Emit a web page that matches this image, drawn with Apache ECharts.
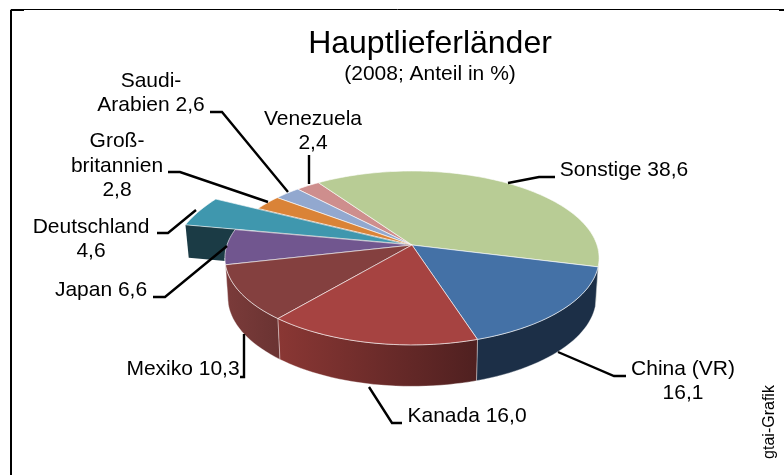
<!DOCTYPE html>
<html>
<head>
<meta charset="utf-8">
<style>
html,body{margin:0;padding:0;background:#fff}
#main{width:784px;height:475px}
</style>
<script src="https://cdn.jsdelivr.net/npm/echarts@6/dist/echarts.min.js"></script>
</head>
<body>
<div id="main"></div>
<script>
// data, clockwise from the Venezuela/Sonstige edge
var categories = ['Sonstige', 'China (VR)', 'Kanada', 'Mexiko', 'Japan', 'Deutschland', 'Groß-\nbritannien', 'Saudi-\nArabien', 'Venezuela'];
var shares = [38.6, 16.1, 16.0, 10.3, 6.6, 4.6, 2.8, 2.6, 2.4];

// styling per slice
var topColors = ['#b8cc95', '#4471a6', '#a64341', '#84403f', '#71568f', '#3f97ae', '#da8337', '#92a8cf', '#ce8e8d'];
var wallColors = ['#6b7a52', '#1c2f47', '#6b2725', '#6f3534', '#4a3860', '#1b3b45', '#6a3d14', '#56688a', '#855a5a'];
var labelSeps = [' ', '\n', ' ', ' ', ' ', '\n', '\n', ' ', '\n'];
var labelPos = [[624, 170], [683, 381], [467, 416], [183, 369], [101, 290], [91, 239], [117, 166], [151, 93], [313, 131]];
var leaders = [
  [[508, 183], [539, 177], [555, 177]],
  [[558, 352], [614, 376], [626, 376]],
  [[369, 387], [392, 423], [402, 423]],
  [[244, 334], [244, 377], [240, 377]],
  [[227, 246], [165, 297], [153, 297]],
  [[196, 210], [168, 233], [157, 233]],
  [[268, 202], [180, 172], [168, 172]],
  [[288, 192], [222, 112], [210, 112]],
  [[309, 184], [309, 155]]
];
var drawOrder = [8, 7, 0, 6, 5, 4, 3, 1, 2];
var explodedIdx = 5;

// pie geometry (perspective squashed circle)
var cx = 412, cy = 245, rx = 185, ry = 85, persp = 0.149;
var startAngle = -34.6;

function project(deg, r, ox, oy) {
  var t = deg * Math.PI / 180;
  var X = r * Math.sin(t), Y = -r * Math.cos(t);
  var p = 1 / (1 - persp * Y);
  return { x: ox + rx * X * p, y: oy + ry * Y * p, p: p };
}
function lower(pt, ox) {
  return [ox + (pt.x - ox) * 0.985, pt.y + 25 + 14 * pt.p];
}

var total = shares.reduce(function (a, b) { return a + b; }, 0);
var angles = [];
var acc = startAngle;
shares.forEach(function (v) {
  var a = v / total * 360;
  angles.push([acc, acc + a]);
  acc += a;
});
var sliceData = drawOrder.map(function (i) { return [i, angles[i][0], angles[i][1]]; });

function renderSlice(params, api) {
  var i = api.value(0), a0 = api.value(1), a1 = api.value(2);
  var exploded = i === explodedIdx;
  var ox = exploded ? 405 : cx, oy = exploded ? 244 : cy, r = exploded ? 1.25 : 1;
  var children = [];
  var a;

  // cut face, only where a neighbour has been pulled away
  if (exploded || i === explodedIdx + 1) {
    var tip = project(a0, r, ox, oy);
    var tipLow = lower(tip, ox);
    tipLow[1] = tip.y + 33;
    children.push({
      type: 'polygon',
      shape: { points: [[ox, oy], [tip.x, tip.y], tipLow, [ox, oy + 33]] },
      style: { fill: wallColors[i] }
    });
  }

  // outer wall on the side facing the viewer
  var w0 = Math.max(a0, 98.6), w1 = Math.min(a1, 261.4);
  if (!exploded && w1 > w0) {
    var upper = [], below = [];
    for (a = w0; a < w1; a += 2) {
      var q = project(a, 1, cx, cy);
      upper.push([q.x, q.y]);
      below.unshift(lower(q, cx));
    }
    var qe = project(w1, 1, cx, cy);
    upper.push([qe.x, qe.y]);
    below.unshift(lower(qe, cx));
    var wallFill = wallColors[i];
    if (i === 2) {
      wallFill = new echarts.graphic.LinearGradient(0, 0, 1, 0, [
        { offset: 0, color: '#8a3734' },
        { offset: 1, color: '#4f2020' }
      ]);
    } else if (i === 3) {
      wallFill = new echarts.graphic.LinearGradient(0, 0, 1, 0, [
        { offset: 0, color: '#7b3b3a' },
        { offset: 1, color: '#6a3332' }
      ]);
    }
    children.push({
      type: 'polygon',
      shape: { points: upper.concat(below) },
      style: { fill: wallFill, stroke: 'rgba(255,255,255,0.45)', lineWidth: 0.8 }
    });
  }

  // top surface
  var pts = [[ox, oy]];
  for (a = a0; a < a1; a += 1.5) {
    var s = project(a, r, ox, oy);
    pts.push([s.x, s.y]);
  }
  var e = project(a1, r, ox, oy);
  pts.push([e.x, e.y]);
  children.push({
    type: 'polygon',
    shape: { points: pts },
    style: { fill: topColors[i], stroke: 'rgba(255,255,255,0.6)', lineWidth: 1 }
  });

  return { type: 'group', children: children };
}

var graphics = [
  { type: 'polyline', silent: true, shape: { points: [[784, 9.5], [11, 9.5], [11, 475]] },
    style: { fill: null, stroke: '#000', lineWidth: 1 } },
  { type: 'line', silent: true, shape: { x1: 11, y1: 11, x2: 11, y2: 475 }, style: { stroke: '#000', lineWidth: 2 } },
  { type: 'line', silent: true, shape: { x1: 10, y1: 10.5, x2: 24, y2: 10.5 }, style: { stroke: '#000', lineWidth: 1 } },
  { type: 'line', silent: true, shape: { x1: 779, y1: 10.5, x2: 784, y2: 10.5 }, style: { stroke: '#000', lineWidth: 1 } },
  { type: 'text', silent: true, x: 770, y: 422, rotation: Math.PI / 2,
    style: { text: 'gtai-Grafik', fontFamily: 'Liberation Sans', fontSize: 16, fill: '#000', align: 'center', verticalAlign: 'middle' } }
];

categories.forEach(function (name, i) {
  graphics.push({
    type: 'polyline', silent: true, z: 5,
    shape: { points: leaders[i] },
    style: { fill: null, stroke: '#000', lineWidth: 2.4 }
  });
  graphics.push({
    type: 'text', silent: true, z: 6,
    x: labelPos[i][0], y: labelPos[i][1],
    style: {
      text: name + labelSeps[i] + String(shares[i].toFixed(1)).replace('.', ','),
      fontFamily: 'Liberation Sans', fontSize: 21, lineHeight: 24.5, fill: '#000',
      align: 'center', verticalAlign: 'middle'
    }
  });
});

var chart = echarts.init(document.getElementById('main'), null, { renderer: 'canvas' });
chart.setOption({
  animation: false,
  backgroundColor: '#fff',
  title: {
    text: 'Hauptlieferländer',
    subtext: '(2008; Anteil in %)',
    left: 425, top: 23, textAlign: 'center', itemGap: 4,
    textStyle: { fontFamily: 'Liberation Sans', fontSize: 32, fontWeight: 'normal', color: '#000' },
    subtextStyle: { fontFamily: 'Liberation Sans', fontSize: 21, color: '#000' }
  },
  series: [{
    type: 'custom',
    coordinateSystem: 'none',
    silent: true,
    renderItem: renderSlice,
    data: sliceData
  }],
  graphic: graphics
});
</script>
</body>
</html>
